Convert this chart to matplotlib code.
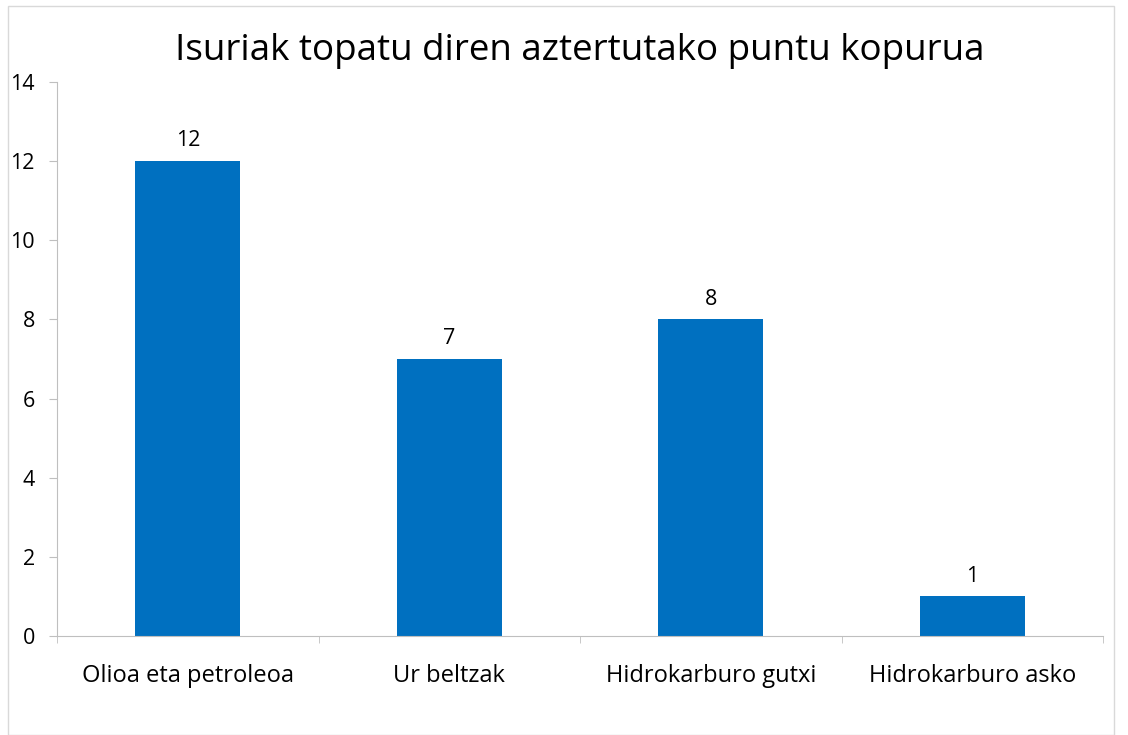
import matplotlib
matplotlib.use("Agg")
import matplotlib.pyplot as plt
from matplotlib.patches import Rectangle
import numpy as np

categories = ["Olioa eta petroleoa", "Ur beltzak", "Hidrokarburo gutxi", "Hidrokarburo asko"]
values = [12, 7, 8, 1]
yticks = [0, 2, 4, 6, 8, 10, 12, 14]
title = "Isuriak topatu diren aztertutako puntu kopurua"

plt.rcParams['font.family'] = ['Open Sans', 'DejaVu Sans']

fig = plt.figure(figsize=(11.28, 7.35), dpi=100)
fig.patches.append(Rectangle((8/1128, 0), (1114-8)/1128, 1-6/735, transform=fig.transFigure,
                             fill=False, edgecolor='#D9D9D9', linewidth=1))
ax = fig.add_axes([57/1128, 1-636/735, (1103-57)/1128, (636-82)/735])

x = np.arange(len(categories))
bars = ax.bar(x, values, width=0.4, color='#0070C0', zorder=2)
for xi, v in zip(x, values):
    ax.annotate(str(v), (xi, v), xytext=(0, 7), textcoords='offset points',
                ha='center', va='bottom', fontsize=15.5, color='#000000')

ax.set_xlim(-0.5, len(categories) - 0.5)
ax.set_ylim(0, 14)
ax.set_yticks(yticks)
ax.set_yticklabels([str(t) for t in yticks], fontsize=15.5)
ax.set_xticks(x)
ax.set_xticklabels(categories, fontsize=17)
ax.set_xticks(np.arange(len(categories) + 1) - 0.5, minor=True)
ax.tick_params(axis='x', which='major', length=0, pad=20)
ax.tick_params(axis='x', which='minor', length=5, color='#BFBFBF')
ax.tick_params(axis='y', length=6, color='#BFBFBF', pad=10)
for s in ['top', 'right']:
    ax.spines[s].set_visible(False)
for s in ['left', 'bottom']:
    ax.spines[s].set_color('#BFBFBF')
ax.set_title(title, fontsize=26.5, pad=16)

fig.savefig("out.png", dpi=100, facecolor='white')
